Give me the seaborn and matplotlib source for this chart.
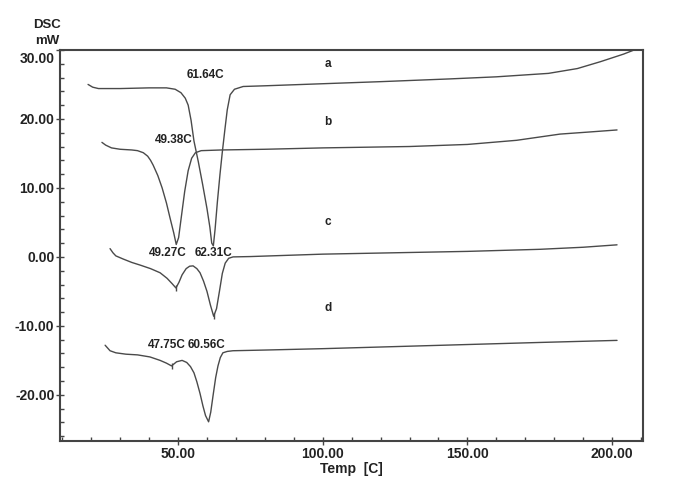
import numpy as np
import pandas as pd
import matplotlib
matplotlib.use("Agg")
import matplotlib.pyplot as plt
import matplotlib.transforms as mtransforms
from matplotlib.ticker import MultipleLocator, FormatStrFormatter
import seaborn as sns

# --- DSC curves (temperature in C, heat flow in mW) ---
temp_a = [18.9, 20.5, 22.5, 30, 40, 46, 49, 51, 52.5, 53.5, 54.5, 55.5, 57, 58.5, 60, 61,
          61.64, 62.2, 62.8, 63.6, 64.5, 65.3, 66.2, 67, 68, 69.5, 72.5, 80, 100, 120, 144,
          160, 178, 188, 196, 204, 210.7]
dsc_a = [25.0, 24.6, 24.4, 24.4, 24.5, 24.5, 24.3, 23.8, 23.0, 22.0, 19.8, 16.8, 13.8, 10.5,
         7.0, 4.3, 2.0, 1.6, 4.0, 8.0, 12.0, 15.2, 18.5, 21.3, 23.5, 24.3, 24.7, 24.8, 25.1,
         25.4, 25.8, 26.1, 26.6, 27.3, 28.3, 29.4, 30.5]

temp_b = [23.7, 25, 27, 30, 34, 36, 38, 39.5, 40.5, 41.4, 43, 44.5, 46, 47.2, 48.5, 49.38,
          50.2, 51.2, 52.3, 53.5, 54.7, 56, 58, 65, 80, 100, 130, 150, 167, 182, 192, 201.7]
dsc_b = [16.6, 16.2, 15.8, 15.6, 15.5, 15.4, 15.1, 14.6, 14.0, 13.3, 11.8, 10.0, 7.8, 5.7,
         3.5, 1.8, 2.8, 6.0, 9.5, 12.5, 14.3, 15.1, 15.4, 15.5, 15.6, 15.8, 16.0, 16.3, 16.9,
         17.8, 18.1, 18.4]

temp_c = [26.5, 27.5, 28.5, 31, 34, 37, 40.5, 43.8, 46.2, 48, 49.27, 50.3, 51.4, 52.8, 54,
          55.2, 56.5, 57.6, 58.8, 60, 61.2, 62.31, 63.3, 64.3, 65.3, 66.3, 67.5, 69, 75, 100,
          125, 150, 175, 190, 201.7]
dsc_c = [1.2, 0.6, 0.15, -0.3, -0.8, -1.2, -1.7, -2.3, -3.1, -3.9, -4.5, -3.7, -2.6, -1.7,
         -1.35, -1.3, -1.7, -2.3, -3.5, -5.0, -7.0, -8.6, -7.5, -5.0, -2.4, -0.9, -0.2, 0.0,
         0.05, 0.4, 0.6, 0.8, 1.1, 1.4, 1.75]

temp_d = [24.8, 26.5, 28.5, 32, 36, 40.3, 43.8, 46, 47.75, 49.5, 51.4, 53, 54.3, 55.5, 56.5,
          57.6, 58.6, 59.5, 60.56, 61.3, 62.1, 63, 63.8, 64.6, 65.5, 67, 69, 80, 100, 125,
          150, 175, 201.7]
dsc_d = [-12.8, -13.6, -13.9, -14.1, -14.2, -14.5, -15.0, -15.4, -15.8, -15.2, -15.0, -15.3,
         -15.9, -16.8, -18.1, -19.8, -21.6, -23.0, -23.9, -22.5, -20.1, -17.5, -15.8, -14.6,
         -13.9, -13.7, -13.6, -13.5, -13.3, -13.0, -12.7, -12.4, -12.1]

curve_names = ["a", "b", "c", "d"]
curve_name_pos = [(101.8, 27.9), (101.8, 19.6), (101.8, 5.0), (101.8, -7.4)]

# peak labels: text, position
peak_labels = ["61.64C", "49.38C", "49.27C", "62.31C", "47.75C", "60.56C"]
peak_label_pos = [(59.3, 26.3), (48.6, 16.9), (46.5, 0.6), (62.1, 0.6), (46.2, -12.7), (60.0, -12.7)]

# small tick marks on curves c and d
mark_temps_c = [49.27, 62.31]
mark_temps_d = [47.75]

frames = []
for name, t, v in zip(curve_names, [temp_a, temp_b, temp_c, temp_d], [dsc_a, dsc_b, dsc_c, dsc_d]):
    frames.append(pd.DataFrame({"temp": t, "dsc": v, "curve": name}))
df = pd.concat(frames, ignore_index=True)

sns.set_style("ticks")
plt.rcParams["font.family"] = ["Liberation Sans", "DejaVu Sans"]

fig = plt.figure(figsize=(6.99, 4.8), dpi=100)
ax = fig.add_axes([0.0858, 0.081, 0.8342, 0.815])

line_col = "#4a4a4a"
sns.lineplot(data=df, x="temp", y="dsc", units="curve", estimator=None, sort=False,
             color=line_col, linewidth=1.0, ax=ax, legend=False)

for t_list, t, v in [(mark_temps_c, temp_c, dsc_c), (mark_temps_d, temp_d, dsc_d)]:
    ax.plot(t_list, np.interp(t_list, t, v), linestyle="none", marker="|",
            markersize=5, color=line_col, markeredgewidth=1.0)

for name, (x, y) in zip(curve_names, curve_name_pos):
    ax.text(x, y, name, ha="center", va="center", fontsize=8.5, fontweight="bold", color="#222222")
for lab, (x, y) in zip(peak_labels, peak_label_pos):
    ax.text(x, y, lab, ha="center", va="center", fontsize=8.5, fontweight="bold", color="#222222")

ax.set_xlim(9.2, 210.7)
ax.set_ylim(-26.7, 30.0)
ax.xaxis.set_major_locator(MultipleLocator(50))
ax.xaxis.set_minor_locator(MultipleLocator(10))
ax.yaxis.set_major_locator(MultipleLocator(10))
ax.yaxis.set_minor_locator(MultipleLocator(2))
ax.xaxis.set_major_formatter(FormatStrFormatter("%.2f"))
ax.yaxis.set_major_formatter(FormatStrFormatter("%.2f"))

for s in ax.spines.values():
    s.set_visible(True)
    s.set_color("#444444")
    s.set_linewidth(1.5)

ax.tick_params(which="major", direction="inout", length=6, width=1.0, color="#444444",
               labelsize=10, labelcolor="#222222", pad=1)
ax.tick_params(which="minor", direction="in", length=3, width=1.0, color="#444444")
for lbl in ax.get_xticklabels() + ax.get_yticklabels():
    lbl.set_fontweight("bold")

# the top y label sits a little below its tick, inside the frame
shift_down = mtransforms.ScaledTranslation(0, -8 / 100, fig.dpi_scale_trans)
for tick in ax.yaxis.get_major_ticks():
    if abs(tick.get_loc() - 30) < 1e-6:
        tick.label1.set_transform(tick.label1.get_transform() + shift_down)

ax.set_xlabel("Temp  [C]", fontsize=10, fontweight="bold", color="#222222", labelpad=1)
ax.set_ylabel("")
fig.text(47 / 699, 1 - 25 / 480, "DSC", ha="center", va="center", fontsize=9.5,
         fontweight="bold", color="#222222")
fig.text(47 / 699, 1 - 41 / 480, "mW", ha="center", va="center", fontsize=9.5,
         fontweight="bold", color="#222222")

fig.savefig("out.png", dpi=100)
